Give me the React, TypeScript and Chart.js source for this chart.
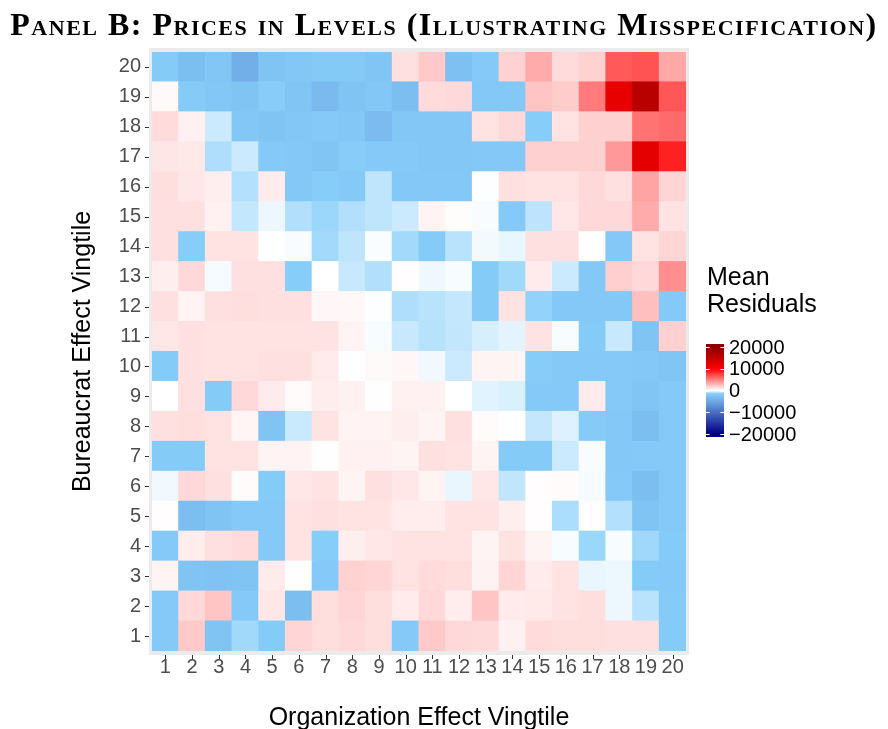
import React, { useEffect, useRef } from "react";
import { Chart, registerables } from "chart.js";

Chart.register(...registerables);

// ---------- data ----------
const xCategories = ["1","2","3","4","5","6","7","8","9","10","11","12","13","14","15","16","17","18","19","20"];
const yCategories = ["1","2","3","4","5","6","7","8","9","10","11","12","13","14","15","16","17","18","19","20"];

// mean residuals, one array per bureaucrat vingtile (row), columns = organization vingtile 1..20
const row1 = [-1950, 2100, -2400, -1170, -1800, 1650, 1300, 1500, 1300, -1950, 2100, 1500, 1450, 550, 1400, 1300, 1300, 1200, 1200, -1800];
const row2 = [-1950, 1500, 2300, -1950, 950, -2950, 1300, 1650, 1300, 800, 1500, 700, 2300, 800, 850, 1100, 1300, -240, -880, -1800];
const row3 = [480, -2400, -2600, -2400, 800, 50, -1950, 1750, 1650, 1100, 1400, 1300, 500, 1650, 800, 1100, -280, -240, -1800, -1950];
const row4 = [-1950, 700, 1200, 1400, -1950, 1100, -1600, 650, 950, 1100, 1100, 1100, 450, 1100, 450, -100, -1250, -100, -1200, -1800];
const row5 = [60, -2950, -2400, -1950, -1950, 1100, 1200, 1100, 1100, 700, 700, 1100, 1100, 650, 60, -1050, 60, -950, -2400, -1950];
const row6 = [-170, 1500, 1200, 150, -1800, 950, 1100, 450, 1200, 950, 450, -280, 950, -780, 60, 150, -110, -1950, -2950, -1950];
const row7 = [-1800, -1800, 1100, 1100, 480, 480, 50, 550, 550, 450, 1200, 1100, 450, -1800, -1800, -640, -80, -2050, -1950, -1950];
const row8 = [1200, 1300, 1100, 400, -2400, -680, 1100, 480, 480, 650, 450, 1200, 150, 20, -720, -420, -1800, -2050, -2950, -1950];
const row9 = [0, 1200, -1800, 1500, 800, 150, 750, 550, 50, 550, 550, 0, -380, -470, -1950, -1950, 800, -1950, -2300, -1950];
const row10 = [-1800, 1200, 1100, 1100, 1200, 1200, 800, 0, 200, 300, -170, -640, 450, 450, -1600, -1950, -1950, -1950, -2050, -2300];
const row11 = [950, 1200, 1100, 1100, 1100, 1100, 1100, 480, -100, -700, -900, -760, -500, -350, 1100, -100, -1800, -700, -2400, 1850];
const row12 = [1200, 480, 1200, 1300, 1200, 1200, 300, 280, -40, -1000, -880, -720, -1800, 1100, -1350, -2050, -2050, -2050, 2500, -1950];
const row13 = [650, 1500, -130, 1200, 1200, -1600, 0, -700, -970, 80, -200, -100, -1800, -1170, 800, -640, -2050, 1900, 1500, 4400];
const row14 = [1200, -1600, 1100, 1100, -10, -80, -1150, -800, -60, -1150, -1800, -880, -160, -290, 1200, 1200, 50, -2050, 1100, 1650];
const row15 = [1200, 1200, 550, -750, -230, -980, -1250, -960, -800, -640, 450, 100, -80, -1950, -830, 950, 1500, 1500, 3300, 1100];
const row16 = [1300, 950, 650, -950, 800, -2050, -1600, -1950, -800, -2050, -2050, -2050, -20, 1200, 1100, 1100, 1500, 1200, 3600, 1700];
const row17 = [1000, 900, -1000, -640, -1950, -2050, -2300, -1600, -1950, -1950, -2100, -2100, -2050, -2050, 1850, 1850, 1850, 4000, 12200, 8700];
const row18 = [1400, 550, -640, -2100, -2400, -2100, -1950, -2150, -3200, -2100, -2100, -2100, 1100, 1500, -1600, 1100, 1850, 1850, 5500, 5800];
const row19 = [250, -1800, -2100, -2400, -1600, -2300, -3300, -2400, -2100, -2950, 1400, 1500, -2050, -2050, 2300, 2000, 5200, 12000, 16100, 6600];
const row20 = [-1800, -2950, -2200, -4400, -2400, -2100, -1900, -1900, -2300, 1200, 2100, -2750, -1950, 1800, 3300, 1400, 1800, 6500, 6800, 3400];

const rows = [row1, row2, row3, row4, row5, row6, row7, row8, row9, row10,
  row11, row12, row13, row14, row15, row16, row17, row18, row19, row20];

const legendTicks = [20000, 10000, 0, -10000, -20000];
const legendTickLabels = ["20000", "10000", "0", "\u221210000", "\u221220000"];

// ---------- styles ----------
const colorStops: [number, [number, number, number]][] = [
  [-20000, [0, 0, 128]],
  [-1500, [135, 206, 250]],
  [0, [255, 255, 255]],
  [10000, [255, 0, 0]],
  [20000, [139, 0, 0]],
];

function fillColor(v: number): string {
  if (v <= colorStops[0][0]) {
    const c = colorStops[0][1];
    return `rgb(${c[0]},${c[1]},${c[2]})`;
  }
  for (let i = 1; i < colorStops.length; i++) {
    const [v1, c1] = colorStops[i];
    const [v0, c0] = colorStops[i - 1];
    if (v <= v1) {
      const t = (v - v0) / (v1 - v0);
      const r = Math.round(c0[0] + (c1[0] - c0[0]) * t);
      const g = Math.round(c0[1] + (c1[1] - c0[1]) * t);
      const b = Math.round(c0[2] + (c1[2] - c0[2]) * t);
      return `rgb(${r},${g},${b})`;
    }
  }
  const c = colorStops[colorStops.length - 1][1];
  return `rgb(${c[0]},${c[1]},${c[2]})`;
}

const SANS = '"Liberation Sans", Arial, sans-serif';

const decorPlugin = {
  id: "heatDecor",
  beforeDraw(chart: any) {
    const { ctx, chartArea: a } = chart;
    ctx.save();
    ctx.fillStyle = "#EBEBEB";
    ctx.fillRect(a.left - 3, a.top - 4, a.right - a.left + 6, a.bottom - a.top + 8);
    ctx.restore();
  },
  afterDraw(chart: any) {
    const { ctx, chartArea: a } = chart;
    const xs = chart.scales.x;
    const ys = chart.scales.y;
    ctx.save();
    // tick marks
    ctx.strokeStyle = "#333333";
    ctx.lineWidth = 1;
    ctx.beginPath();
    xCategories.forEach((_, i) => {
      const px = Math.round(xs.getPixelForValue(i)) + 0.5;
      ctx.moveTo(px, a.bottom + 4);
      ctx.lineTo(px, a.bottom + 8);
    });
    yCategories.forEach((_, i) => {
      const py = Math.round(ys.getPixelForValue(i + 0.5)) + 0.5;
      ctx.moveTo(a.left - 7, py);
      ctx.lineTo(a.left - 3, py);
    });
    ctx.stroke();

    // axis titles
    ctx.fillStyle = "#000000";
    ctx.font = `25px ${SANS}`;
    ctx.textAlign = "center";
    ctx.textBaseline = "alphabetic";
    ctx.fillText("Organization Effect Vingtile", (a.left + a.right) / 2, 725);
    ctx.save();
    ctx.translate(90, (a.top + a.bottom) / 2);
    ctx.rotate(-Math.PI / 2);
    ctx.fillText("Bureaucrat Effect Vingtile", 0, 0);
    ctx.restore();

    // legend title
    ctx.textAlign = "left";
    ctx.fillText("Mean", 707, 285);
    ctx.fillText("Residuals", 707, 312);

    // colour bar
    const barX = 706, barW = 18, barTop = 344, barBottom = 437;
    const mid = (barTop + barBottom) / 2;
    const half = 43.5;
    const valAt = (y: number) => ((mid - y) / half) * 20000;
    const grad = ctx.createLinearGradient(0, barTop, 0, barBottom);
    const steps = 120;
    for (let s = 0; s <= steps; s++) {
      const y = barTop + ((barBottom - barTop) * s) / steps;
      grad.addColorStop(s / steps, fillColor(valAt(y)));
    }
    ctx.fillStyle = grad;
    ctx.fillRect(barX, barTop, barW, barBottom - barTop);
    ctx.strokeStyle = "#FFFFFF";
    ctx.lineWidth = 1;
    ctx.beginPath();
    legendTicks.forEach((v) => {
      const y = Math.round(mid - (v / 20000) * half) + 0.5;
      ctx.moveTo(barX, y);
      ctx.lineTo(barX + 3.6, y);
      ctx.moveTo(barX + barW - 3.6, y);
      ctx.lineTo(barX + barW, y);
    });
    ctx.stroke();
    ctx.fillStyle = "#000000";
    ctx.font = `20px ${SANS}`;
    ctx.textBaseline = "middle";
    legendTicks.forEach((v, i) => {
      const y = mid - (v / 20000) * half + 1;
      ctx.fillText(legendTickLabels[i], 729, y);
    });
    ctx.restore();
  },
};

export default function App() {
  const canvasRef = useRef<HTMLCanvasElement | null>(null);

  useEffect(() => {
    const canvas = canvasRef.current;
    if (!canvas) return;
    const datasets = rows.map((row, r) => ({
      label: yCategories[r],
      data: row.map(() => [r, r + 1] as [number, number]),
      backgroundColor: row.map((v) => fillColor(v)),
      borderWidth: 0,
      barPercentage: 1,
      categoryPercentage: 1,
      grouped: false,
      inflateAmount: 0.5,
    }));

    const chart = new Chart(canvas, {
      type: "bar",
      data: { labels: xCategories, datasets: datasets as any },
      options: {
        animation: false,
        responsive: false,
        events: [],
        layout: { padding: { top: 52, right: 202, left: 0, bottom: 0 } },
        plugins: {
          legend: { display: false },
          tooltip: { enabled: false },
          title: { display: false },
        },
        scales: {
          x: {
            type: "category",
            offset: true,
            grid: { display: false, drawTicks: false },
            border: { display: false },
            ticks: {
              autoSkip: false,
              maxRotation: 0,
              minRotation: 0,
              padding: 4,
              color: "#4D4D4D",
              font: { family: SANS, size: 20 },
            },
            afterFit: (s: any) => { s.height = 78; },
          },
          y: {
            type: "linear",
            min: 0,
            max: 20,
            grid: { display: false, drawTicks: false },
            border: { display: false },
            afterBuildTicks: (s: any) => {
              s.ticks = yCategories.map((_, i) => ({ value: i + 0.5 }));
            },
            ticks: {
              autoSkip: false,
              padding: 11,
              color: "#4D4D4D",
              font: { family: SANS, size: 20 },
              callback: (_v: any, i: number) => yCategories[i],
            },
            afterFit: (s: any) => { s.width = 152; },
          },
        },
      },
      plugins: [decorPlugin],
    });
    return () => chart.destroy();
  }, []);

  return (
    <div style={{ position: "absolute", left: 0, top: 0, width: 888, height: 729, background: "#FFFFFF" }}>
      <canvas ref={canvasRef} width={888} height={729} style={{ position: "absolute", left: 0, top: 0, width: 888, height: 729 }} />
      <div
        style={{
          position: "absolute",
          left: 0,
          top: 6,
          width: 888,
          textAlign: "center",
          fontFamily: '"Liberation Serif", "Times New Roman", serif',
          fontWeight: "bold",
          fontVariant: "small-caps",
          fontSize: 32,
          letterSpacing: "1.5px",
          lineHeight: "36px",
          color: "#000000",
          whiteSpace: "nowrap",
        }}
      >
        Panel B: Prices in Levels (Illustrating Misspecification)
      </div>
    </div>
  );
}
